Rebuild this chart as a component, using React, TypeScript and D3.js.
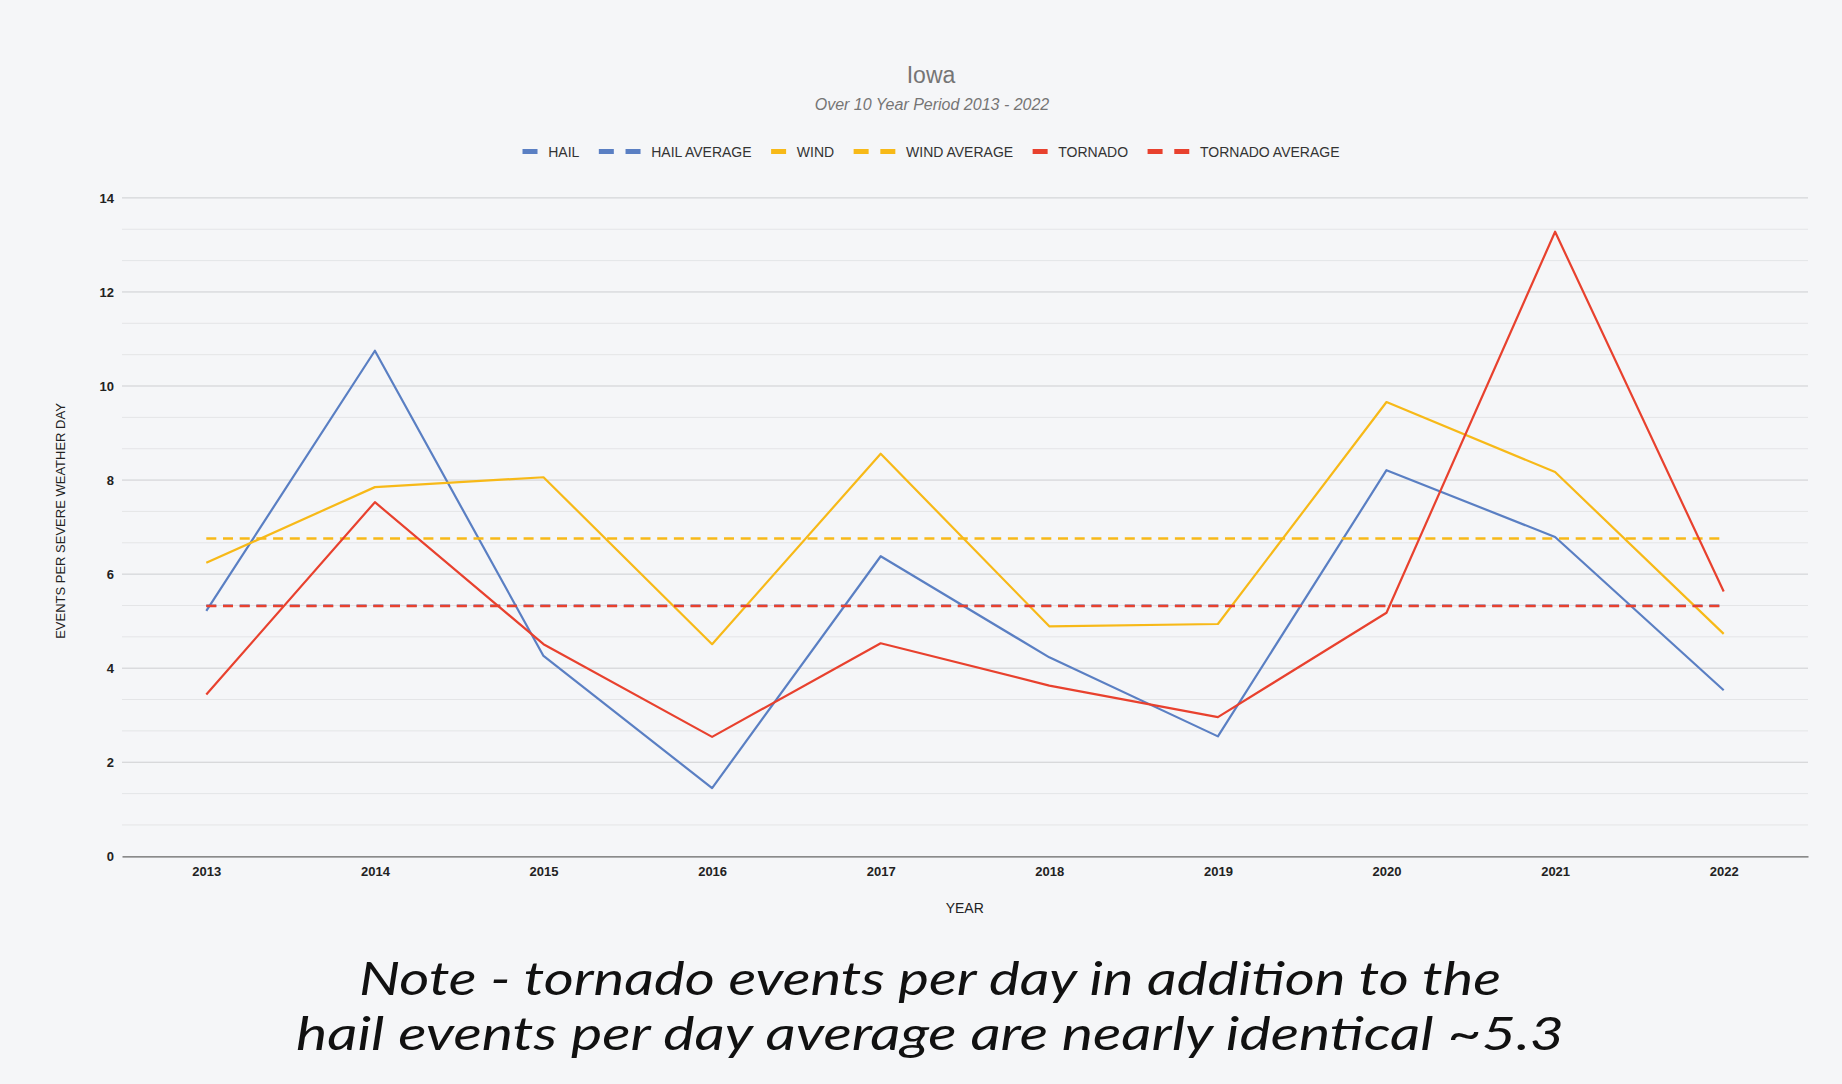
import { useEffect, useRef } from 'react';
import * as d3 from 'd3';

// Iowa severe weather, events per severe weather day
const years = ['2013', '2014', '2015', '2016', '2017', '2018', '2019', '2020', '2021', '2022'];
const hail = [5.22, 10.75, 4.26, 1.45, 6.38, 4.23, 2.55, 8.21, 6.79, 3.53];
const wind = [6.24, 7.85, 8.06, 4.51, 8.56, 4.89, 4.94, 9.66, 8.17, 4.73];
const tornado = [3.44, 7.53, 4.51, 2.54, 4.53, 3.63, 2.96, 5.18, 13.28, 5.63];
const hailAverage = 5.33;
const windAverage = 6.76;
const tornadoAverage = 5.32;
const yTicks = [0, 2, 4, 6, 8, 10, 12, 14];

const legendItems = [
  { label: 'HAIL', color: '#5a7fc3', dashed: false },
  { label: 'HAIL AVERAGE', color: '#5a7fc3', dashed: true },
  { label: 'WIND', color: '#f7b918', dashed: false },
  { label: 'WIND AVERAGE', color: '#f7b918', dashed: true },
  { label: 'TORNADO', color: '#e8412e', dashed: false },
  { label: 'TORNADO AVERAGE', color: '#e8412e', dashed: true },
];

const noteLines = [
  'Note - tornado events per day in addition to the',
  'hail events per day average are nearly identical ~5.3',
];

const W = 1842;
const H = 1084;
const FONT = "Arial, 'Liberation Sans', sans-serif";

const App = () => {
  const svgRef = useRef<SVGSVGElement>(null);

  useEffect(() => {
    if (!svgRef.current) return;
    const svg = d3.select(svgRef.current);
    svg.selectAll('*').remove();

    const left = 122, right = 1808, top = 197.9, bottom = 856.3;

    const x = d3.scalePoint<string>().domain(years).range([left, right]).padding(0.5);
    const y = d3.scaleLinear().domain([0, 14]).range([bottom, top]);

    svg.append('rect').attr('width', W).attr('height', H).attr('fill', '#f5f6f8');

    // minor gridlines (3 per major step)
    const minor = d3.range(0, 22).map(k => (k * 2) / 3).filter(v => Math.abs(v / 2 - Math.round(v / 2)) > 0.01);
    svg.append('g')
      .selectAll('line')
      .data(minor)
      .enter()
      .append('line')
      .attr('x1', left).attr('x2', right)
      .attr('y1', d => y(d)).attr('y2', d => y(d))
      .attr('stroke', '#e4e5e7').attr('stroke-width', 1);

    svg.append('g')
      .selectAll('line')
      .data(yTicks.filter(t => t > 0))
      .enter()
      .append('line')
      .attr('x1', left).attr('x2', right)
      .attr('y1', d => y(d)).attr('y2', d => y(d))
      .attr('stroke', '#cdced1').attr('stroke-width', 1);

    // axes
    const yAxis = svg.append('g')
      .attr('transform', `translate(${left},0)`)
      .call(d3.axisLeft(y).tickValues(yTicks).tickSize(0).tickPadding(8).tickFormat(d => `${d}`));
    yAxis.select('.domain').remove();
    yAxis.selectAll('text')
      .attr('font-family', FONT).attr('font-size', 13).attr('font-weight', 'bold').attr('fill', '#222');

    const xAxis = svg.append('g')
      .attr('transform', `translate(0,${bottom})`)
      .call(d3.axisBottom(x).tickSize(0).tickPadding(10));
    xAxis.select('.domain').attr('stroke', '#666').attr('stroke-width', 1.2);
    xAxis.selectAll('text')
      .attr('font-family', FONT).attr('font-size', 13).attr('font-weight', 'bold').attr('fill', '#222');

    // series
    const line = d3.line<number>()
      .x((_, i) => x(years[i]) as number)
      .y(d => y(d));

    const drawSeries = (values: number[], color: string) => {
      svg.append('path')
        .datum(values)
        .attr('d', line)
        .attr('fill', 'none')
        .attr('stroke', color)
        .attr('stroke-width', 2.2)
        .attr('stroke-linejoin', 'round');
    };
    const drawAverage = (value: number, color: string) => {
      svg.append('line')
        .attr('x1', x(years[0]) as number)
        .attr('x2', x(years[years.length - 1]) as number)
        .attr('y1', y(value)).attr('y2', y(value))
        .attr('stroke', color)
        .attr('stroke-width', 2.5)
        .attr('stroke-dasharray', '10,6.7');
    };

    drawSeries(hail, legendItems[0].color);
    drawAverage(hailAverage, legendItems[1].color);
    drawSeries(wind, legendItems[2].color);
    drawAverage(windAverage, legendItems[3].color);
    drawSeries(tornado, legendItems[4].color);
    drawAverage(tornadoAverage, legendItems[5].color);

    // titles
    svg.append('text')
      .attr('x', 931).attr('y', 82.7)
      .attr('text-anchor', 'middle')
      .attr('font-family', FONT).attr('font-size', 23).attr('fill', '#757575')
      .text('Iowa');
    svg.append('text')
      .attr('x', 932).attr('y', 110)
      .attr('text-anchor', 'middle')
      .attr('font-family', FONT).attr('font-size', 16).attr('font-style', 'italic').attr('fill', '#757575')
      .text('Over 10 Year Period 2013 - 2022');

    // legend, laid out from measured text widths and centered
    const legend = svg.append('g');
    let cursor = 0;
    legendItems.forEach((item, i) => {
      const g = legend.append('g');
      const rects = item.dashed ? [0, 26.7] : [0];
      rects.forEach(dx => {
        g.append('rect')
          .attr('x', cursor + dx).attr('y', 149)
          .attr('width', 15).attr('height', 5)
          .attr('fill', item.color);
      });
      cursor += item.dashed ? 41.7 : 15;
      cursor += 10.7;
      const t = g.append('text')
        .attr('x', cursor).attr('y', 156.5)
        .attr('font-family', FONT).attr('font-size', 14).attr('fill', '#333')
        .text(item.label);
      cursor += (t.node() as SVGTextElement).getComputedTextLength();
      if (i < legendItems.length - 1) cursor += 19.5;
    });
    legend.attr('transform', `translate(${931 - cursor / 2},0)`);

    // axis titles
    svg.append('text')
      .attr('transform', 'translate(60,521) rotate(-90)')
      .attr('text-anchor', 'middle')
      .attr('dominant-baseline', 'central')
      .attr('font-family', FONT).attr('font-size', 13).attr('fill', '#222')
      .text('EVENTS PER SEVERE WEATHER DAY');
    svg.append('text')
      .attr('x', 964.7).attr('y', 913)
      .attr('text-anchor', 'middle')
      .attr('font-family', FONT).attr('font-size', 14).attr('fill', '#222')
      .text('YEAR');

    // note under the chart
    const noteWidths = [1142, 1268];
    noteLines.forEach((txt, i) => {
      svg.append('text')
        .attr('x', 930).attr('y', 995 + i * 55)
        .attr('text-anchor', 'middle')
        .attr('font-family', "Lato, 'Open Sans', sans-serif")
        .attr('font-size', 46)
        .attr('font-style', 'italic')
        .attr('font-weight', 400)
        .attr('fill', '#111')
        .attr('textLength', noteWidths[i])
        .attr('lengthAdjust', 'spacingAndGlyphs')
        .text(txt);
    });
  }, []);

  return (
    <div style={{ position: 'absolute', top: 0, left: 0, width: W, height: H }}>
      <svg ref={svgRef} width={W} height={H} style={{ display: 'block' }} />
    </div>
  );
};

export default App;
